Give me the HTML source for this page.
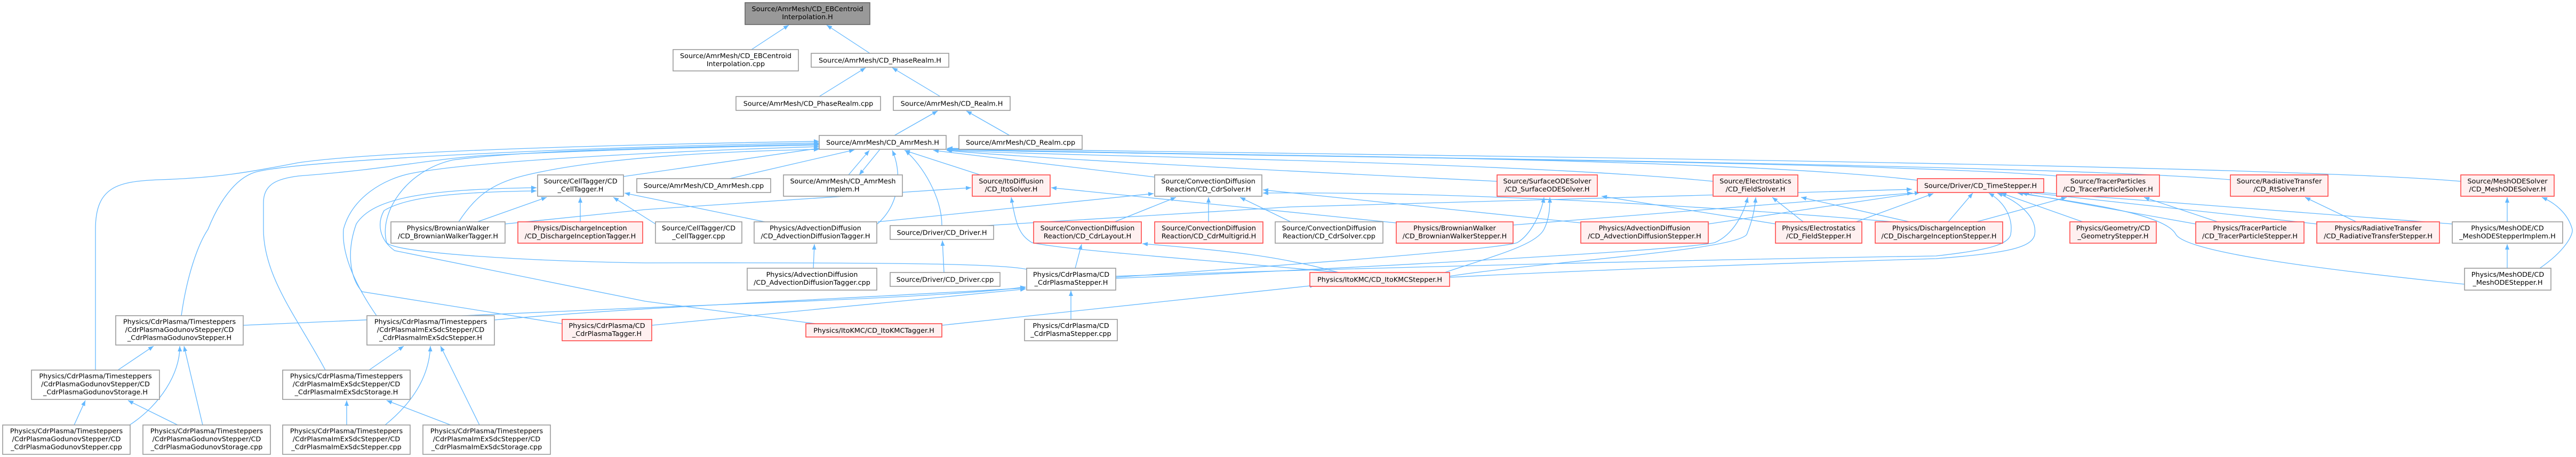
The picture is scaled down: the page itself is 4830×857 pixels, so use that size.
<!DOCTYPE html>
<html><head><meta charset="utf-8"><style>
html,body{margin:0;padding:0;background:#fff;}
svg{display:block;}
text{font-family:"DejaVu Sans","Liberation Sans",sans-serif;font-size:12.8px;fill:#000;text-anchor:middle;}
.g{fill:#fff;stroke:#999;stroke-width:1.6;}
.r{fill:#fff0f0;stroke:#ff4848;stroke-width:1.6;}
.t{fill:#999;stroke:#666;stroke-width:1.6;}
path{fill:none;stroke:#63b8ff;stroke-width:1.3;marker-end:url(#a);}
</style></head><body>
<svg width="4830" height="857" viewBox="0 0 4830 857" xmlns="http://www.w3.org/2000/svg">
<defs><marker id="a" markerUnits="userSpaceOnUse" markerWidth="11" markerHeight="9" refX="10" refY="4" orient="auto"><polygon points="0,0 10,4 0,8" fill="#63b8ff"/></marker></defs>

<!-- edges -->
<path d="M1409,93 L1479,47"/>
<path d="M1631,100 L1550,47"/>
<path d="M1536,181 L1623,127"/>
<path d="M1763,181 L1673,127"/>
<path d="M1677,254 L1758,208"/>
<path d="M1893,254 L1812,208"/>
<path d="M1368,335 L1602,281"/>
<path d="M1591,328 L1630,282"/>
<path d="M1650,280 L1611,328"/>
<path d="M1838,328 L1696,282"/>
<path d="M2165,332 L1750,282"/>
<path d="M1169,331 L1536,278"/>
<path d="M1766,423 C1766,370 1730,310 1697,282"/>
<path d="M1645,420 C1690,380 1690,320 1673,282"/>
<path d="M2807,340 C2400,320 1900,295 1775,282"/>
<path d="M3212,340 C2800,300 1900,292 1775,281"/>
<path d="M3595,338 C3200,290 2000,290 1775,280"/>
<path d="M3856,330 C3500,300 2100,292 1776,279"/>
<path d="M4182,337 C3800,305 2200,292 1776,279"/>
<path d="M4614,340 C4200,305 2300,288 1776,278"/>
<path d="M179,694 L179,430 C179,350 220,340 300,337 C420,333 480,320 560,305 C700,285 1100,272 1536,265"/>
<path d="M340,592 C350,520 370,460 390,430 C410,380 440,335 478,323 C560,300 1100,275 1536,268"/>
<path d="M610,694 C560,600 494,520 494,430 L494,380 C494,345 520,335 560,330 C720,318 800,300 900,292 C1100,282 1300,276 1536,272"/>
<path d="M706,592 C670,540 640,480 644,430 C660,370 720,335 772,325 C900,300 1300,282 1536,275"/>
<path d="M1925,505 C1880,495 1700,492 1210,493 C1000,490 740,475 725,455 C710,400 760,320 849,300 C1000,280 1300,276 1536,270"/>
<path d="M860,416 C890,370 920,345 980,330 C1100,300 1300,285 1536,280"/>
<path d="M1054,607 L679,547 C655,520 650,470 668,420 C700,370 800,355 1006,352"/>
<path d="M1529,607 L1210,565 L740,470 C712,450 706,420 720,395 C760,370 850,360 1006,358"/>
<path d="M895,416 L1025,370"/>
<path d="M1088,416 L1088,370"/>
<path d="M1229,420 L1150,370"/>
<path d="M1434,416 L1171,362"/>
<path d="M947,420 L1210,393 L1821,352"/>
<path d="M2618,418 L1971,352"/>
<path d="M2510,511 C2300,490 2000,470 1935,455 C1910,440 1905,420 1896,370"/>
<path d="M1646,416 L2163,363"/>
<path d="M2090,416 L2205,370"/>
<path d="M2266,416 L2266,370"/>
<path d="M2420,416 L2325,370"/>
<path d="M2964,418 L2368,356"/>
<path d="M3550,416 C3000,370 2600,360 2368,362"/>
<path d="M1850,423 L2420,388 L3585,355"/>
<path d="M2837,422 L3586,362"/>
<path d="M3203,420 L3600,361"/>
<path d="M3480,416 L3625,363"/>
<path d="M2016,503 L2028,458"/>
<path d="M2510,511 C2400,480 2300,470 2142,457"/>
<path d="M2008,599 L2008,545"/>
<path d="M456,610 L1210,577 C1500,565 1800,555 1923,538"/>
<path d="M927,600 C1200,575 1600,560 1923,540"/>
<path d="M1222,610 L1923,542"/>
<path d="M2092,520 C2300,505 2800,470 2845,455 C2870,440 2890,400 2895,370"/>
<path d="M2092,522 C2500,505 3150,470 3215,455 C3250,440 3270,400 3277,370"/>
<path d="M2092,518 C2600,500 3300,485 3630,480 C3720,470 3765,460 3770,440 C3775,410 3760,380 3729,362"/>
<path d="M2718,520 C3000,505 3400,492 3630,485 C3760,475 3810,465 3815,440 C3820,410 3790,380 3745,362"/>
<path d="M2709,511 C2800,480 2880,460 2895,430 C2905,410 2906,390 2906,370"/>
<path d="M2718,518 C2900,490 3250,470 3275,440 C3285,415 3290,395 3292,370"/>
<path d="M3330,420 L3003,368"/>
<path d="M3381,416 L3323,370"/>
<path d="M3580,416 L3377,370"/>
<path d="M1766,610 L2466,535"/>
<path d="M3653,416 L3699,362"/>
<path d="M3905,416 L3752,362"/>
<path d="M4117,420 L3791,362"/>
<path d="M4344,420 L3795,360"/>
<path d="M4598,420 L3800,359"/>
<path d="M4621,533 C4300,500 4100,470 4080,440 C4060,400 3900,380 3783,362"/>
<path d="M4158,416 L4020,370"/>
<path d="M3706,416 L3875,370"/>
<path d="M4418,416 L4322,370"/>
<path d="M4701,416 L4701,370"/>
<path d="M4762,503 C4810,470 4825,440 4823,430 C4815,400 4790,380 4766,370"/>
<path d="M4701,503 L4701,458"/>
<path d="M1525,503 L1527,458"/>
<path d="M1770,511 L1767,451"/>
<path d="M221,694 L288,649"/>
<path d="M243,797 C300,760 338,700 337,649"/>
<path d="M380,797 L345,649"/>
<path d="M139,797 L160,751"/>
<path d="M333,797 L240,751"/>
<path d="M692,694 L757,649"/>
<path d="M722,797 C780,750 805,700 807,649"/>
<path d="M899,797 L826,649"/>
<path d="M650,797 L650,751"/>
<path d="M845,797 L725,751"/>

<!-- nodes -->
<rect class="t" x="1397" y="5" width="234" height="41"/><text x="1514" y="21">Source/AmrMesh/CD_EBCentroid</text><text x="1514" y="36">Interpolation.H</text>
<rect class="g" x="1262" y="93" width="235" height="40"/><text x="1379.5" y="109">Source/AmrMesh/CD_EBCentroid</text><text x="1379.5" y="124">Interpolation.cpp</text>
<rect class="g" x="1521" y="100" width="258" height="26"/><text x="1650" y="117.5">Source/AmrMesh/CD_PhaseRealm.H</text>
<rect class="g" x="1380" y="181" width="271" height="26"/><text x="1515.5" y="198.5">Source/AmrMesh/CD_PhaseRealm.cpp</text>
<rect class="g" x="1675" y="181" width="219" height="26"/><text x="1784.5" y="198.5">Source/AmrMesh/CD_Realm.H</text>
<rect class="g" x="1536" y="254" width="238" height="26"/><text x="1655" y="271.5">Source/AmrMesh/CD_AmrMesh.H</text>
<rect class="g" x="1798" y="254" width="231" height="26"/><text x="1913.5" y="271.5">Source/AmrMesh/CD_Realm.cpp</text>

<rect class="g" x="1008" y="328" width="161" height="40"/><text x="1088.5" y="344">Source/CellTagger/CD</text><text x="1088.5" y="359">_CellTagger.H</text>
<rect class="g" x="1194" y="335" width="251" height="26"/><text x="1319.5" y="352.5">Source/AmrMesh/CD_AmrMesh.cpp</text>
<rect class="g" x="1469" y="328" width="223" height="40"/><text x="1580.5" y="344">Source/AmrMesh/CD_AmrMesh</text><text x="1580.5" y="359">Implem.H</text>
<rect class="r" x="1823" y="328" width="146" height="40"/><text x="1896" y="344">Source/ItoDiffusion</text><text x="1896" y="359">/CD_ItoSolver.H</text>
<rect class="g" x="2165" y="328" width="201" height="40"/><text x="2265.5" y="344">Source/ConvectionDiffusion</text><text x="2265.5" y="359">Reaction/CD_CdrSolver.H</text>
<rect class="r" x="2807" y="328" width="188" height="40"/><text x="2901" y="344">Source/SurfaceODESolver</text><text x="2901" y="359">/CD_SurfaceODESolver.H</text>
<rect class="r" x="3212" y="328" width="159" height="40"/><text x="3291.5" y="344">Source/Electrostatics</text><text x="3291.5" y="359">/CD_FieldSolver.H</text>
<rect class="r" x="3595" y="335" width="237" height="26"/><text x="3713.5" y="352.5">Source/Driver/CD_TimeStepper.H</text>
<rect class="r" x="3856" y="328" width="193" height="40"/><text x="3952.5" y="344">Source/TracerParticles</text><text x="3952.5" y="359">/CD_TracerParticleSolver.H</text>
<rect class="r" x="4182" y="328" width="183" height="40"/><text x="4273.5" y="344">Source/RadiativeTransfer</text><text x="4273.5" y="359">/CD_RtSolver.H</text>
<rect class="r" x="4614" y="328" width="175" height="40"/><text x="4701.5" y="344">Source/MeshODESolver</text><text x="4701.5" y="359">/CD_MeshODESolver.H</text>

<rect class="g" x="733" y="416" width="214" height="40"/><text x="840" y="432">Physics/BrownianWalker</text><text x="840" y="447">/CD_BrownianWalkerTagger.H</text>
<rect class="r" x="971" y="416" width="234" height="40"/><text x="1088" y="432">Physics/DischargeInception</text><text x="1088" y="447">/CD_DischargeInceptionTagger.H</text>
<rect class="g" x="1229" y="416" width="162" height="40"/><text x="1310" y="432">Source/CellTagger/CD</text><text x="1310" y="447">_CellTagger.cpp</text>
<rect class="g" x="1414" y="416" width="230" height="40"/><text x="1529" y="432">Physics/AdvectionDiffusion</text><text x="1529" y="447">/CD_AdvectionDiffusionTagger.H</text>
<rect class="g" x="1669" y="423" width="194" height="26"/><text x="1766" y="440.5">Source/Driver/CD_Driver.H</text>
<rect class="r" x="1938" y="416" width="202" height="40"/><text x="2039" y="432">Source/ConvectionDiffusion</text><text x="2039" y="447">Reaction/CD_CdrLayout.H</text>
<rect class="r" x="2165" y="416" width="203" height="40"/><text x="2266.5" y="432">Source/ConvectionDiffusion</text><text x="2266.5" y="447">Reaction/CD_CdrMultigrid.H</text>
<rect class="g" x="2391" y="416" width="202" height="40"/><text x="2492" y="432">Source/ConvectionDiffusion</text><text x="2492" y="447">Reaction/CD_CdrSolver.cpp</text>
<rect class="r" x="2618" y="416" width="219" height="40"/><text x="2727.5" y="432">Physics/BrownianWalker</text><text x="2727.5" y="447">/CD_BrownianWalkerStepper.H</text>
<rect class="r" x="2964" y="416" width="239" height="40"/><text x="3083.5" y="432">Physics/AdvectionDiffusion</text><text x="3083.5" y="447">/CD_AdvectionDiffusionStepper.H</text>
<rect class="r" x="3329" y="416" width="162" height="40"/><text x="3410" y="432">Physics/Electrostatics</text><text x="3410" y="447">/CD_FieldStepper.H</text>
<rect class="r" x="3516" y="416" width="239" height="40"/><text x="3635.5" y="432">Physics/DischargeInception</text><text x="3635.5" y="447">/CD_DischargeInceptionStepper.H</text>
<rect class="r" x="3881" y="416" width="162" height="40"/><text x="3962" y="432">Physics/Geometry/CD</text><text x="3962" y="447">_GeometryStepper.H</text>
<rect class="r" x="4117" y="416" width="203" height="40"/><text x="4218.5" y="432">Physics/TracerParticle</text><text x="4218.5" y="447">/CD_TracerParticleStepper.H</text>
<rect class="r" x="4344" y="416" width="230" height="40"/><text x="4459" y="432">Physics/RadiativeTransfer</text><text x="4459" y="447">/CD_RadiativeTransferStepper.H</text>
<rect class="g" x="4598" y="416" width="207" height="40"/><text x="4701.5" y="432">Physics/MeshODE/CD</text><text x="4701.5" y="447">_MeshODEStepperImplem.H</text>

<rect class="g" x="1401" y="503" width="243" height="41"/><text x="1522.5" y="519">Physics/AdvectionDiffusion</text><text x="1522.5" y="534">/CD_AdvectionDiffusionTagger.cpp</text>
<rect class="g" x="1669" y="511" width="206" height="26"/><text x="1772" y="528.5">Source/Driver/CD_Driver.cpp</text>
<rect class="g" x="1925" y="503" width="167" height="41"/><text x="2008.5" y="519">Physics/CdrPlasma/CD</text><text x="2008.5" y="534">_CdrPlasmaStepper.H</text>
<rect class="r" x="2456" y="511" width="262" height="26"/><text x="2587" y="528.5">Physics/ItoKMC/CD_ItoKMCStepper.H</text>
<rect class="g" x="4621" y="503" width="162" height="41"/><text x="4702" y="519">Physics/MeshODE/CD</text><text x="4702" y="534">_MeshODEStepper.H</text>

<rect class="g" x="217" y="592" width="239" height="55"/><text x="336.5" y="607.5">Physics/CdrPlasma/Timesteppers</text><text x="336.5" y="622.5">/CdrPlasmaGodunovStepper/CD</text><text x="336.5" y="637.5">_CdrPlasmaGodunovStepper.H</text>
<rect class="g" x="688" y="592" width="239" height="55"/><text x="807.5" y="607.5">Physics/CdrPlasma/Timesteppers</text><text x="807.5" y="622.5">/CdrPlasmaImExSdcStepper/CD</text><text x="807.5" y="637.5">_CdrPlasmaImExSdcStepper.H</text>
<rect class="r" x="1054" y="599" width="168" height="40"/><text x="1138" y="615">Physics/CdrPlasma/CD</text><text x="1138" y="630">_CdrPlasmaTagger.H</text>
<rect class="r" x="1511" y="607" width="255" height="25"/><text x="1638.5" y="624">Physics/ItoKMC/CD_ItoKMCTagger.H</text>
<rect class="g" x="1921" y="599" width="174" height="40"/><text x="2008" y="615">Physics/CdrPlasma/CD</text><text x="2008" y="630">_CdrPlasmaStepper.cpp</text>

<rect class="g" x="59" y="694" width="240" height="55"/><text x="179" y="709.5">Physics/CdrPlasma/Timesteppers</text><text x="179" y="724.5">/CdrPlasmaGodunovStepper/CD</text><text x="179" y="739.5">_CdrPlasmaGodunovStorage.H</text>
<rect class="g" x="530" y="694" width="239" height="55"/><text x="649.5" y="709.5">Physics/CdrPlasma/Timesteppers</text><text x="649.5" y="724.5">/CdrPlasmaImExSdcStepper/CD</text><text x="649.5" y="739.5">_CdrPlasmaImExSdcStorage.H</text>

<rect class="g" x="5" y="797" width="239" height="55"/><text x="124.5" y="812.5">Physics/CdrPlasma/Timesteppers</text><text x="124.5" y="827.5">/CdrPlasmaGodunovStepper/CD</text><text x="124.5" y="842.5">_CdrPlasmaGodunovStepper.cpp</text>
<rect class="g" x="268" y="797" width="239" height="55"/><text x="387.5" y="812.5">Physics/CdrPlasma/Timesteppers</text><text x="387.5" y="827.5">/CdrPlasmaGodunovStepper/CD</text><text x="387.5" y="842.5">_CdrPlasmaGodunovStorage.cpp</text>
<rect class="g" x="530" y="797" width="239" height="55"/><text x="649.5" y="812.5">Physics/CdrPlasma/Timesteppers</text><text x="649.5" y="827.5">/CdrPlasmaImExSdcStepper/CD</text><text x="649.5" y="842.5">_CdrPlasmaImExSdcStepper.cpp</text>
<rect class="g" x="793" y="797" width="239" height="55"/><text x="912.5" y="812.5">Physics/CdrPlasma/Timesteppers</text><text x="912.5" y="827.5">/CdrPlasmaImExSdcStepper/CD</text><text x="912.5" y="842.5">_CdrPlasmaImExSdcStorage.cpp</text>
</svg>
</body></html>
